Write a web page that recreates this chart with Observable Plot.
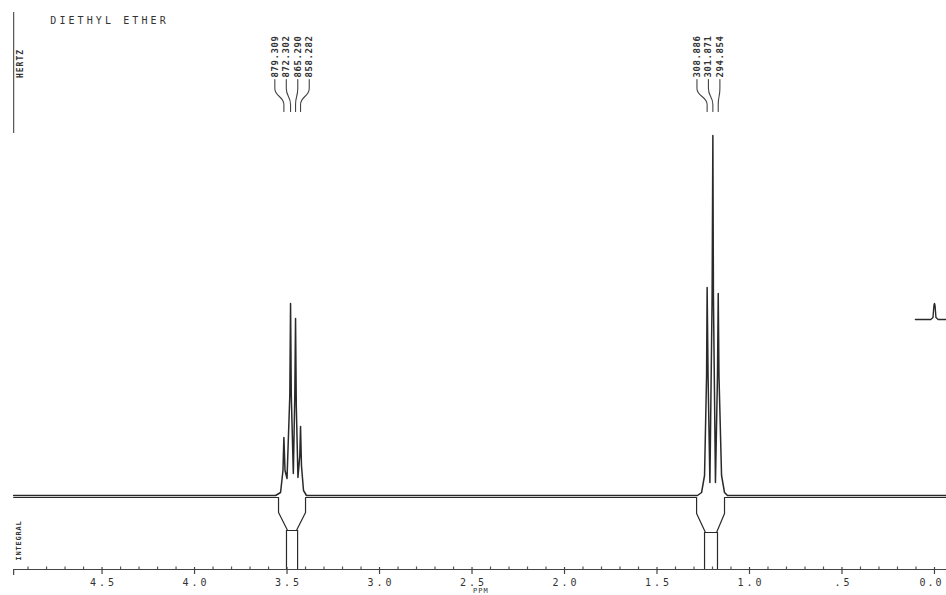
<!DOCTYPE html>
<html>
<head>
<meta charset="utf-8">
<script src="https://cdn.jsdelivr.net/npm/d3@7"></script>
<script src="https://cdn.jsdelivr.net/npm/@observablehq/plot@0.6"></script>
<style>
  html, body { margin: 0; padding: 0; background: #fff; }
  #chart svg { display: block; }
</style>
</head>
<body>
<div id="chart"></div>
<script>
// ---- data ----
const title = "DIETHYL ETHER";
const yAxisLabel = "HERTZ";
const integralLabel = "INTEGRAL";
const unitLabel = "PPM";

// spectrum trace: [ppm, intensity]
const baselineStart = [4.978, 0];
const quartetTrace = [
  [3.562, 0], [3.535, 3], [3.522, 25], [3.517, 58], [3.511, 25], [3.500, 17],
  [3.485, 100], [3.481, 192], [3.477, 100], [3.466, 22], [3.458, 100],
  [3.454, 177], [3.450, 90], [3.441, 18], [3.431, 40], [3.427, 69],
  [3.422, 30], [3.411, 5], [3.395, 0]
];
const tripletTrace = [
  [1.281, 0], [1.259, 3], [1.243, 20], [1.232, 120], [1.229, 208], [1.224, 120],
  [1.214, 13], [1.202, 200], [1.198, 360], [1.195, 200], [1.184, 13],
  [1.173, 120], [1.169, 202], [1.165, 120], [1.151, 20], [1.135, 3], [1.119, 0]
];
const baselineEnd = [-0.065, 0];

// TMS reference inset
const tmsTrace = [
  [0.103, 176], [0.020, 176], [0.008, 178], [0.003, 190], [0.0, 192],
  [-0.003, 190], [-0.008, 178], [-0.020, 176], [-0.065, 176]
];

// integral trace
const integralTrace = [
  [4.978, -2], [3.546, -2], [3.546, -17], [3.497, -35], [3.449, -35], [3.400, -17], [3.400, -2],
  [1.286, -2], [1.286, -18], [1.238, -37], [1.178, -37], [1.135, -18], [1.135, -2], [-0.065, -2]
];
const integralSteps = [
  {ppm: 3.503, top: -35}, {ppm: 3.443, top: -35},
  {ppm: 1.243, top: -37}, {ppm: 1.173, top: -37}
];

// peak frequency labels (Hz)
const quartetPeaks = [3.517, 3.481, 3.454, 3.427];
const quartetHz = ["879.309", "872.302", "865.290", "858.282"];
const tripletPeaks = [1.229, 1.198, 1.169];
const tripletHz = ["308.886", "301.871", "294.854"];

// axis
const axisLevel = -74;
const axisStart = 4.978;
const axisEnd = -0.065;
const majorTicks = [4.5, 4.0, 3.5, 3.0, 2.5, 2.0, 1.5, 1.0, 0.5, 0.0];
const majorTickLabels = ["4.5", "4.0", "3.5", "3.0", "2.5", "2.0", "1.5", "1.0", ".5", "0.0"];

// ---- build ----
const spectrum = [baselineStart, ...quartetTrace, ...tripletTrace, baselineEnd]
  .map(([ppm, v]) => ({ppm, v}));
const tms = tmsTrace.map(([ppm, v]) => ({ppm, v}));
const integral = integralTrace.map(([ppm, v]) => ({ppm, v}));
const minorTicks = d3.range(1, 50).map(i => i / 10).filter(t => Math.abs(t * 2 - Math.round(t * 2)) > 1e-6);

const labelGap = 0.062; // spacing between stacked peak labels, in ppm
function labelGroup(peaks, texts, center) {
  const n = peaks.length;
  return peaks.map((p, i) => ({
    peak: p,
    text: texts[i],
    lx: center + ((n - 1) / 2 - i) * labelGap,
    id: texts[i]
  }));
}
const labels = [
  ...labelGroup(quartetPeaks, quartetHz, 3.473),
  ...labelGroup(tripletPeaks, tripletHz, 1.222)
];
const connectors = labels.flatMap(d => [
  {id: d.id, ppm: d.lx, v: 416},
  {id: d.id, ppm: d.lx, v: 407},
  {id: d.id, ppm: d.peak, v: 391},
  {id: d.id, ppm: d.peak, v: 384}
]);

const ink = "#2a2a2a";
const font = "DejaVu Sans Mono";

const plot = Plot.plot({
  width: 946,
  height: 595,
  margin: 0,
  x: {domain: [5.049, -0.065], range: [0, 946], axis: null},
  y: {domain: [-100, 495], range: [595, 0], axis: null},
  marks: [
    // left vertical (Hertz) rule
    Plot.ruleX([axisStart], {y1: 362, y2: 483, stroke: "#555", strokeWidth: 1.2}),
    Plot.text([yAxisLabel], {x: 4.94, y: 432, rotate: -90, fontSize: 8, fontFamily: font, fill: "#333", fontWeight: "bold"}),
    // title
    Plot.text([title], {x: 4.78, y: 475, textAnchor: "start", fontSize: 10, fontFamily: font, fill: "#333"}),
    // spectrum
    Plot.line(spectrum, {x: "ppm", y: "v", stroke: ink, strokeWidth: 1.5}),
    Plot.line(tms, {x: "ppm", y: "v", stroke: ink, strokeWidth: 1.4}),
    // integral
    Plot.line(integral, {x: "ppm", y: "v", stroke: ink, strokeWidth: 1.2}),
    Plot.ruleX(integralSteps, {x: "ppm", y1: "top", y2: axisLevel, stroke: ink, strokeWidth: 1.2}),
    Plot.text([integralLabel], {x: 4.952, y: -45, rotate: -90, fontSize: 7, fontFamily: font, fill: "#333", fontWeight: "bold"}),
    // peak labels
    Plot.line(connectors, {x: "ppm", y: "v", z: "id", curve: "bump-y", stroke: "#444", strokeWidth: 1.1}),
    Plot.text(labels, {x: "lx", y: 418, text: "text", rotate: -90, textAnchor: "start", fontSize: 9, fontFamily: font, fill: "#333", fontWeight: "bold"}),
    // x axis
    Plot.ruleY([axisLevel], {x1: axisStart, x2: axisEnd, stroke: "#444", strokeWidth: 1.2}),
    Plot.ruleX([axisStart], {y1: axisLevel, y2: axisLevel - 6, stroke: "#444", strokeWidth: 1.2}),
    Plot.ruleX(minorTicks, {y1: axisLevel, y2: axisLevel + 2.5, stroke: "#555", strokeWidth: 1.2}),
    Plot.ruleX(majorTicks, {y1: axisLevel + 2, y2: axisLevel - 5, stroke: "#444", strokeWidth: 1.2}),
    Plot.text(majorTicks, {x: d => d, y: -87.5, text: (d, i) => majorTickLabels[i], fontSize: 10, fontFamily: font, fill: "#333"}),
    Plot.text([unitLabel], {x: 2.455, y: -95.5, fontSize: 7, fontFamily: font, fill: "#333"})
  ]
});

// plotter-style letter spacing, matched by text content
const spacingFor = new Map();
majorTickLabels.forEach(t => spacingFor.set(t, ["3px", "1.5px"]));
spacingFor.set("0.0", ["2px", "-3px"]);
[...quartetHz, ...tripletHz].forEach(t => spacingFor.set(t, ["0.6px", null]));
spacingFor.set(title, ["3.1px", null]);
spacingFor.set(unitLabel, ["1px", "0.5px"]);
spacingFor.set(yAxisLabel, ["1px", null]);
spacingFor.set(integralLabel, ["0.8px", null]);
d3.select(plot).selectAll("text").each(function () {
  const s = spacingFor.get(this.textContent.trim());
  if (s) {
    this.setAttribute("letter-spacing", s[0]);
    this.style.letterSpacing = s[0];
    if (s[1]) this.setAttribute("dx", s[1]);
  }
});
document.getElementById("chart").appendChild(plot);
</script>
</body>
</html>
